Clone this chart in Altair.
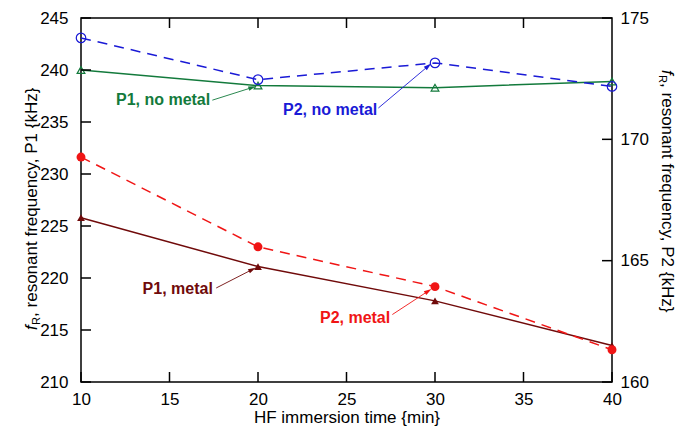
import math
import altair as alt
import pandas as pd

# ---------------- data ----------------
time = [10, 20, 30, 40]
p1_no_metal = [240.0, 238.5, 238.3, 238.9]
p1_metal = [225.8, 221.1, 217.8, 213.5]
p2_no_metal = [174.18, 172.46, 173.15, 172.18]
p2_metal = [169.27, 165.57, 163.93, 161.33]

x_ticks = [10, 15, 20, 25, 30, 35, 40]
top_ticks = [15, 20, 25, 30, 35]
left_ticks = [210, 215, 220, 225, 230, 235, 240, 245]
right_ticks = [160, 165, 170, 175]
x_domain = [10, 40]
left_domain = [210, 245]
right_domain = [160, 175]

# annotations (data units)
left_labels = ["P1, no metal", "P1, metal"]
left_text_x = [17.3, 17.45]
left_text_y = [237.1, 218.95]
left_from_x = [17.42, 17.64]
left_from_y = [237.1, 219.04]
left_to_x = [19.68, 19.68]
left_to_y = [238.32, 220.82]

right_labels = ["P2, no metal", "P2, metal"]
right_text_x = [26.74, 27.47]
right_text_y = [171.21, 162.62]
right_from_x = [26.80, 27.59]
right_from_y = [171.29, 162.78]
right_to_x = [29.62, 29.62]
right_to_y = [173.02, 163.75]

# ---------------- style ----------------
W, H = 531, 364
TICK = 10
GREEN = "#137a3c"
BLUE = "#1a1ad6"
MAROON = "#700a0a"
RED = "#f01515"
FONT = "Liberation Sans"

xscale = alt.Scale(domain=x_domain, nice=False, zero=False)
lscale = alt.Scale(domain=left_domain, nice=False, zero=False)
rscale = alt.Scale(domain=right_domain, nice=False, zero=False)

df = pd.DataFrame({"time": time, "p1n": p1_no_metal, "p1m": p1_metal,
                   "p2n": p2_no_metal, "p2m": p2_metal})


def angles(fx, fy, tx, ty, span):
    out = []
    for a, b, c, d in zip(fx, fy, tx, ty):
        dx = (c - a) * W / (x_domain[1] - x_domain[0])
        dy = (d - b) * H / span
        out.append(math.degrees(math.atan2(dx, dy)) % 360)
    return out


bottom_axis = alt.Axis(orient="bottom", values=x_ticks, title="HF immersion time {min}",
                       ticks=False, tickSize=0, domain=False, grid=False,
                       labelPadding=9, titlePadding=2, labelFlush=False, format="d")
left_axis = alt.Axis(orient="left", values=left_ticks, title=None, ticks=False, tickSize=0,
                     domain=False, grid=False, labelPadding=13, format="d")
right_axis = alt.Axis(orient="right", values=right_ticks, title=None, ticks=False, tickSize=0,
                      domain=False, grid=False, labelPadding=8, format="d")


def X(field):
    return alt.X(field, type="quantitative", scale=xscale, axis=bottom_axis)


def series(field, color, scale, shape, filled, size, dash=None, yaxis=None):
    line_kw = dict(color=color, strokeWidth=1.5)
    if dash is not None:
        line_kw["strokeDash"] = dash
    line = alt.Chart(df).mark_line(**line_kw).encode(
        x=X("time"),
        y=alt.Y(f"{field}:Q", scale=scale, axis=yaxis),
    )
    pts = alt.Chart(df).mark_point(shape=shape, filled=filled, color=color, size=size,
                                   strokeWidth=1.2, opacity=1).encode(
        x=X("time"),
        y=alt.Y(f"{field}:Q", scale=scale, axis=None),
    )
    return [line, pts]


def annotations(labels, colors, tx, ty, fx, fy, ax, ay, scale, span):
    a = pd.DataFrame({"label": labels, "c": colors, "tx": tx, "ty": ty,
                      "fx": fx, "fy": fy, "ax": ax, "ay": ay,
                      "ang": angles(fx, fy, ax, ay, span)})
    text = alt.Chart(a).mark_text(font=FONT, fontSize=16, fontWeight="bold",
                                  align="right", baseline="middle").encode(
        x=X("tx"),
        y=alt.Y("ty:Q", scale=scale, axis=None),
        text="label:N",
        color=alt.Color("c:N", scale=None),
    )
    rule = alt.Chart(a).mark_rule(strokeWidth=0.9).encode(
        x=X("fx"),
        y=alt.Y("fy:Q", scale=scale, axis=None),
        x2="ax:Q", y2="ay:Q",
        color=alt.Color("c:N", scale=None),
    )
    head = alt.Chart(a).mark_point(shape="M0,-1L0.6,1L-0.6,1Z", filled=True, size=60,
                                   opacity=1).encode(
        x=X("ax"),
        y=alt.Y("ay:Q", scale=scale, axis=None),
        angle=alt.Angle("ang:Q", scale=None),
        color=alt.Color("c:N", scale=None),
    )
    return [rule, head, text]


def yticks(values, scale, x0, x1):
    return alt.Chart(pd.DataFrame({"v": values})).mark_rule(color="black", strokeWidth=1.5).encode(
        y=alt.Y("v:Q", scale=scale, axis=None), x=alt.value(x0), x2=alt.value(x1))


def xticks(values, y0, y1):
    return alt.Chart(pd.DataFrame({"v": values})).mark_rule(color="black", strokeWidth=1.5).encode(
        x=X("v"), y=alt.value(y0), y2=alt.value(y1))


one = pd.DataFrame({"a": [0]})


def title_parts(x, y0, angle, sub_dx, direction, label):
    # italic f, subscript R, remaining text
    f_adv = 4.9
    r_adv = 8.2
    return [
        alt.Chart(one).mark_text(text="f", font=FONT, fontSize=17, fontStyle="italic",
                                 angle=angle, align="left", baseline="alphabetic",
                                 color="black").encode(x=alt.value(x), y=alt.value(y0)),
        alt.Chart(one).mark_text(text="R", font=FONT, fontSize=11, angle=angle,
                                 align="left", baseline="alphabetic",
                                 color="black").encode(x=alt.value(x + sub_dx),
                                                       y=alt.value(y0 + direction * f_adv)),
        alt.Chart(one).mark_text(text=label, font=FONT, fontSize=17, angle=angle,
                                 align="left", baseline="alphabetic",
                                 color="black").encode(x=alt.value(x),
                                                       y=alt.value(y0 + direction * (f_adv + r_adv))),
    ]


layers = (
    series("p1n", GREEN, lscale, "triangle-up", False, 60, yaxis=left_axis)
    + series("p1m", MAROON, lscale, "triangle-up", True, 60)
    + series("p2n", BLUE, rscale, "circle", False, 90, dash=[10, 7], yaxis=right_axis)
    + series("p2m", RED, rscale, "circle", True, 80, dash=[10, 7])
    + annotations(left_labels, [GREEN, MAROON], left_text_x, left_text_y, left_from_x,
                  left_from_y, left_to_x, left_to_y, lscale, left_domain[1] - left_domain[0])
    + annotations(right_labels, [BLUE, RED], right_text_x, right_text_y, right_from_x,
                  right_from_y, right_to_x, right_to_y, rscale, right_domain[1] - right_domain[0])
    + [yticks(left_ticks, lscale, 0, TICK), yticks(right_ticks, rscale, W - TICK, W),
       xticks(top_ticks, 0, TICK), xticks(x_ticks, H - TICK, H)]
    + title_parts(-44, 312, 270, 3, -1, ", resonant frequency, P1 {kHz}")
    + title_parts(581, 52, 90, -3, 1, ", resonant frequency, P2 {kHz}")
)

chart = (
    alt.layer(*layers)
    .resolve_scale(y="independent")
    .properties(width=W, height=H,
                padding={"left": 73, "top": 10, "right": 80, "bottom": 45},
                autosize=alt.AutoSizeParams(type="none"),
                background="white")
    .configure_view(stroke="black", strokeWidth=1.5)
    .configure_axis(labelFont=FONT, labelFontSize=17, labelColor="black",
                    titleFont=FONT, titleFontSize=17,
                    titleColor="black", titleFontWeight="normal")
)

chart.save("out.html", embed_options={"renderer": "svg", "actions": False})
